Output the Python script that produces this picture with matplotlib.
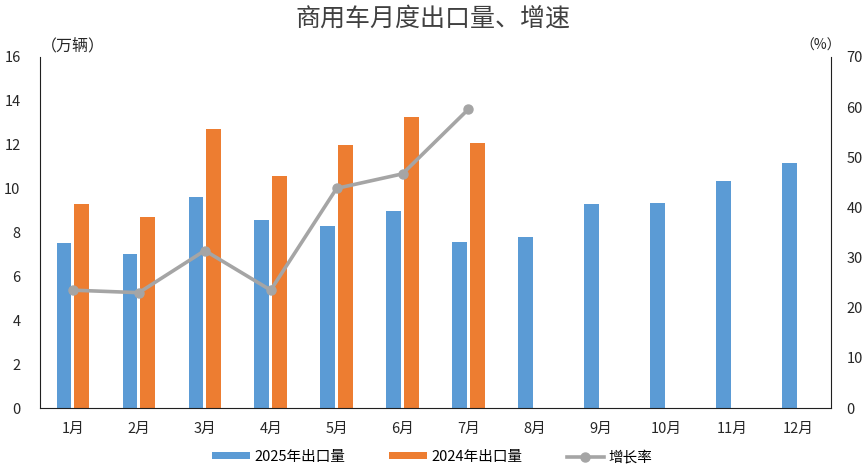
import numpy as np
import matplotlib.pyplot as plt
from matplotlib.patches import Patch
from matplotlib.lines import Line2D

plt.rcParams['font.family'] = ['Noto Sans CJK SC', 'DejaVu Sans']

months = ['1月', '2月', '3月', '4月', '5月', '6月', '7月', '8月', '9月', '10月', '11月', '12月']
blue_vals = [7.5, 7.0, 9.6, 8.57, 8.3, 8.98, 7.57, 7.81, 9.3, 9.36, 10.35, 11.15]
orange_vals = [9.3, 8.69, 12.7, 10.59, 11.97, 13.28, 12.09]
growth = [23.5, 23.0, 31.4, 23.5, 43.8, 46.7, 59.6]

blue_label = '2025年出口量'
orange_label = '2024年出口量'
line_label = '增长率'

BLUE = '#5B9BD5'
ORANGE = '#ED7D31'
GREY = '#A5A5A5'

fig = plt.figure(figsize=(8.65, 4.73), dpi=100)
ax = fig.add_axes([40 / 865, 65 / 473, 791 / 865, 351 / 473])

x = np.arange(len(months))
w = 0.224
off = 0.135
ax.bar(x - off, blue_vals, width=w, color=BLUE, zorder=2)
ax.bar(x[:len(orange_vals)] + off, orange_vals, width=w, color=ORANGE, zorder=2)

ax.set_xlim(-0.5, 11.5)
ax.set_ylim(0, 16)
ax.set_yticks(np.arange(0, 17, 2))
ax.set_xticks(x)
ax.set_xticklabels(months, fontsize=10.5, color='#262626')
ax.tick_params(axis='y', length=0, pad=14, labelsize=10.5, labelcolor='#262626')
ax.tick_params(axis='x', length=0, pad=10)
for s in ['top', 'right']:
    ax.spines[s].set_visible(False)
ax.spines['left'].set_color('#202020')
ax.spines['bottom'].set_color('#202020')

ax2 = ax.twinx()
ax2.plot(x[:len(growth)], growth, color=GREY, lw=2.6, marker='o', ms=6.5, zorder=3)
ax2.set_ylim(0, 70)
ax2.set_yticks(np.arange(0, 71, 10))
ax2.tick_params(axis='y', length=0, pad=11, labelsize=10.5, labelcolor='#262626')
for s in ['top', 'left', 'bottom']:
    ax2.spines[s].set_visible(False)
ax2.spines['right'].set_color('#202020')

fig.text(0.5, 1 - 19 / 473, '商用车月度出口量、增速', ha='center', va='center',
         fontsize=18, color='#404040')
fig.text(73 / 865, 1 - 46 / 473, '（万辆）', ha='center', va='center', fontsize=11.5, color='#262626')
fig.text(821 / 865, 1 - 46 / 473, '（%）', ha='center', va='center', fontsize=10, color='#262626')

handles = [
    Patch(facecolor=BLUE, edgecolor='none'),
    Patch(facecolor=ORANGE, edgecolor='none'),
    Line2D([], [], color=GREY, lw=2.6, marker='o', ms=6.5),
]
fig.legend(handles, [blue_label, orange_label, line_label], loc='center',
           bbox_to_anchor=(0.5, 1 - 457 / 473), ncol=3, frameon=False,
           fontsize=10.5, handlelength=2.6, handleheight=0.4, columnspacing=3.0,
           handletextpad=0.3)

fig.savefig('out.png', dpi=100)
